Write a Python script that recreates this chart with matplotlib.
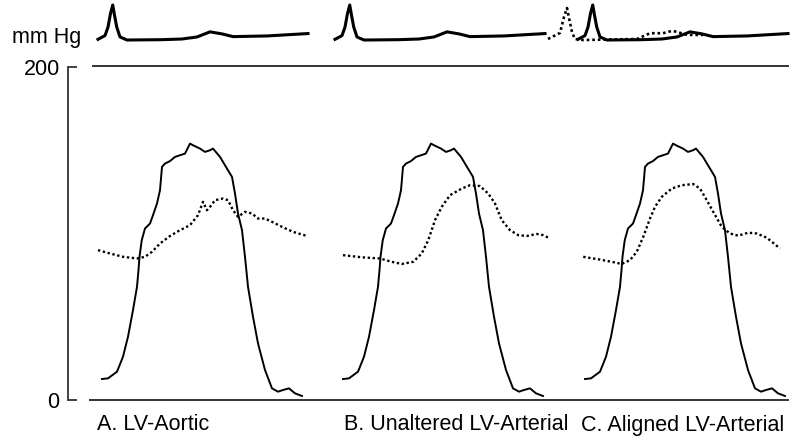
import matplotlib
matplotlib.use("Agg")
import matplotlib.pyplot as plt
import numpy as np

plt.rcParams['font.family'] = ['Liberation Sans', 'DejaVu Sans']

# ---- data (time in ms from LV upstroke onset, pressure in mmHg) ----
lv_t = [0, 24, 60, 84, 104, 124, 140, 146, 150, 159, 172, 192, 204, 220, 232, 240,
        252, 272, 292, 312, 332, 352, 364, 392, 412, 432, 444, 472, 500, 520, 532,
        544, 560, 572, 584, 604, 624, 652, 680, 704, 724, 748, 772, 800]
lv_p = [12.6, 13, 17, 26, 38, 54, 68, 78, 86, 96, 103, 106, 111, 118, 126, 140,
        142, 143.5, 146, 147, 148, 154, 153, 151, 149, 150, 151, 146, 139, 134, 124,
        112, 102, 86, 68, 50, 34, 18, 7, 5, 6, 7, 4, 2.4]

aortic_t = [-16, 32, 84, 140, 172, 200, 232, 272, 312, 352, 384, 404, 420, 432,
            452, 484, 504, 524, 544, 572, 600, 624, 652, 680, 720, 764, 820]
aortic_p = [90, 88, 86, 85, 86, 89, 94, 98.5, 102, 105, 111, 119, 114, 116,
            120, 121, 120, 114, 110, 113, 112, 109, 109, 107, 104, 101, 98.5]

art_b_t = [0, 75, 148, 195, 235, 281, 315, 341, 368, 395, 428, 475, 508, 548,
           581, 608, 635, 668, 701, 735, 775, 801, 828]
art_b_p = [87, 85.7, 85, 83, 81.7, 83, 88, 96, 108, 116, 123, 127, 129, 128.5,
           124, 118, 108, 102, 99, 98.5, 99.7, 99, 97]

art_c_t = [-7, 53, 107, 147, 180, 207, 233, 260, 280, 307, 347, 387, 433, 460,
           487, 513, 547, 580, 613, 653, 687, 727, 780]
art_c_p = [86, 84.5, 83, 81.7, 84, 89, 98, 109, 116, 122, 127, 129, 129.7, 127,
           120, 113, 104, 100, 98.7, 100.5, 100, 97.5, 91]

# ECG (mV), time in ms relative to the ECG reference point of each panel
ecg_t = [-16, 12, 24, 34, 43, 50, 59, 72, 100, 240, 320, 380, 432, 480, 524, 660, 824]
ecg_mv = [-0.01, 0.1, 0.35, 0.75, 1.0, 0.7, 0.35, 0.06, -0.03, -0.02, 0.0, 0.06,
          0.21, 0.15, 0.07, 0.09, 0.16]
# arterial-catheter ECG shown (dotted) in panel C
ecg_c_art_t = [-136, -88, -72, -60, -52, -40, -28, 4, 220, 272, 324, 360, 380, 420, 484]
ecg_c_art_mv = [0.0, 0.18, 0.65, 0.91, 0.62, 0.2, 0.0, -0.03, 0.0, 0.17, 0.17, 0.24,
                0.21, 0.12, 0.12]

panel_labels = ["A. LV-Aortic", "B. Unaltered LV-Arterial", "C. Aligned LV-Arterial"]
y_ticks = [0, 200]

# ---- layout ----
W, H = 794, 438
DPI = 100
MS_PER_PX = 4.0
AX_X0 = 68
FS = 15.5
panel_onset_px = [102, 343, 585]
ecg_onset_px = [102, 339, 582]
offsets = [(p - AX_X0) * MS_PER_PX for p in panel_onset_px]
ecg_offsets = [(p - AX_X0) * MS_PER_PX for p in ecg_onset_px]

fig = plt.figure(figsize=(W / DPI, H / DPI), dpi=DPI)

def fx(px):
    return px / W

def fy(py):
    return 1 - py / H

AXW = (W - AX_X0)

# main pressure axes
ax = fig.add_axes([fx(AX_X0), fy(400), AXW / W, (400 - 67) / H])
ax.set_xlim(0, AXW * MS_PER_PX)
ax.set_ylim(0, 200)
for s in ['top', 'right', 'bottom']:
    ax.spines[s].set_visible(False)
ax.spines['left'].set_color('#333333')
ax.spines['left'].set_linewidth(1.3)
ax.set_xticks([])
ax.set_yticks(y_ticks)
ax.set_yticklabels([str(v) for v in y_ticks])
ax.tick_params(axis='y', direction='in', length=6.5, width=1.3, color='#333333',
               labelsize=FS, pad=6)

line_kw = dict(color='black', lw=1.4, clip_on=False, solid_joinstyle='round')
dot_kw = dict(color='black', lw=1.7, ls=(0, (1, 1.1)), clip_on=False)

# reference lines
ax.axhline(0, xmin=(90 - AX_X0) / AXW, xmax=(788 - AX_X0) / AXW,
           color='#333333', lw=1.4, clip_on=False)
ax.axhline(200.5, xmin=(93 - AX_X0) / AXW, xmax=(788 - AX_X0) / AXW,
           color='#333333', lw=1.4, clip_on=False)

lv_t_a = np.array(lv_t)
arts = [(aortic_t, aortic_p), (art_b_t, art_b_p), (art_c_t, art_c_p)]
for off, (at, ap) in zip(offsets, arts):
    ax.plot(lv_t_a + off, lv_p, **line_kw)
    ax.plot(np.array(at) + off, ap, **dot_kw)

# ECG axes on top
ecg_ax = fig.add_axes([fx(AX_X0), fy(50), AXW / W, 50 / H])
ecg_ax.set_xlim(ax.get_xlim())
ecg_ax.set_ylim((39 - 50) / 34, 39 / 34)
ecg_ax.axis('off')
for off in ecg_offsets:
    ecg_ax.plot(np.array(ecg_t) + off, ecg_mv, color='black', lw=2.2, clip_on=False,
                solid_joinstyle='round')
ecg_ax.plot(np.array(ecg_c_art_t) + ecg_offsets[2], ecg_c_art_mv, color='black', lw=1.9,
            ls=(0, (1, 1.1)), clip_on=False)

# texts
fig.text(fx(12), fy(37), "mm Hg", fontsize=FS, ha='left', va='center')
label_x = [97, 344, 581]
for lx, lab in zip(label_x, panel_labels):
    fig.text(fx(lx), fy(425), lab, fontsize=FS, ha='left', va='center')

fig.savefig("out.png", dpi=DPI)
